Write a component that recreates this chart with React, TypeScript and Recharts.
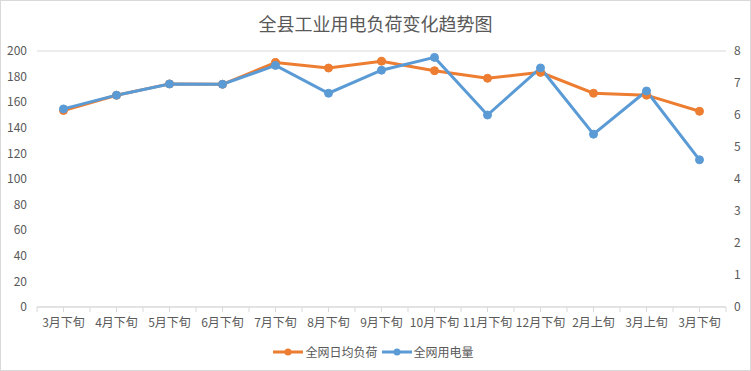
import * as React from "react";
import { CartesianGrid, Line, LineChart, XAxis, YAxis } from "recharts";

// Reference is an Excel-style dual-axis line chart: daily average load (left
// axis, 0–200) against electricity consumption (right axis, 0–8).
const categories = [
  "3月下旬", "4月下旬", "5月下旬", "6月下旬", "7月下旬", "8月下旬", "9月下旬",
  "10月下旬", "11月下旬", "12月下旬", "2月上旬", "3月上旬", "3月下旬",
];
const dailyLoad = [153.5, 165.4, 174.3, 174, 191, 186.7, 192, 184.6, 178.7, 183.3, 167, 165.5, 152.9];
const gridPower = [6.19, 6.62, 6.97, 6.96, 7.55, 6.68, 7.4, 7.8, 6.0, 7.47, 5.4, 6.75, 4.6];
const leftTicks = [0, 20, 40, 60, 80, 100, 120, 140, 160, 180, 200];
const rightTicks = [0, 1, 2, 3, 4, 5, 6, 7, 8];

const ORANGE = "#ED7D31";
const BLUE = "#5B9BD5";
const INK = "#595959";
const GRID = "#d9d9d9";
const FONT = '"Noto Sans CJK SC", "Noto Sans", sans-serif';

const W = 749;
const H = 369;
const LEFT_W = 36;
const RIGHT_W = 24;
const BAND = (W - LEFT_W - RIGHT_W) / categories.length;

const rows = categories.map((label, i) => ({ label, load: dailyLoad[i], power: gridPower[i] }));

function CatTick(props: any) {
  const { x, y, payload, index } = props;
  const half = BAND / 2;
  return (
    <g>
      <line x1={x} x2={x} y1={y} y2={y + 5} stroke={GRID} />
      <line x1={x - half} x2={x - half} y1={y} y2={y + 5} stroke={GRID} />
      {index === categories.length - 1 && <line x1={x + half} x2={x + half} y1={y} y2={y + 5} stroke={GRID} />}
      <text x={x} y={y + 20} textAnchor="middle" fill={INK} fontSize={12} fontFamily={FONT}>
        {payload.value}
      </text>
    </g>
  );
}

function LegendSwatch({ color, label }: { color: string; label: string }) {
  return (
    <span style={{ display: "inline-flex", alignItems: "center", marginRight: 4 }}>
      <svg width={30} height={10} style={{ marginRight: 2 }}>
        <line x1={0} x2={30} y1={5} y2={5} stroke={color} strokeWidth={3} />
        <circle cx={15} cy={5} r={3.5} fill={color} />
      </svg>
      <span>{label}</span>
    </span>
  );
}

export default function App() {
  return (
    <div
      style={{
        position: "absolute",
        left: 0,
        top: 0,
        width: 751,
        height: 371,
        border: `1px solid ${GRID}`,
        boxSizing: "border-box",
        background: "#fff",
        fontFamily: FONT,
      }}
    >
      <div
        style={{
          position: "absolute",
          top: 9,
          left: 0,
          width: W,
          textAlign: "center",
          fontSize: 18,
          color: INK,
        }}
      >
        全县工业用电负荷变化趋势图
      </div>
      <LineChart width={W} height={H} data={rows} margin={{ top: 50, right: 0, left: 0, bottom: 33 }}>
        <CartesianGrid stroke={GRID} vertical={false} />
        <XAxis
          dataKey="label"
          interval={0}
          padding={{ left: BAND / 2, right: BAND / 2 }}
          stroke={GRID}
          tickLine={false}
          tickSize={0}
          tickMargin={0}
          height={30}
          tick={<CatTick />}
        />
        <YAxis
          yAxisId="left"
          domain={[0, 200]}
          ticks={leftTicks}
          width={LEFT_W}
          axisLine={false}
          tickLine={false}
          tickMargin={4}
          tick={{ fill: INK, fontSize: 12, fontFamily: FONT }}
        />
        <YAxis
          yAxisId="right"
          orientation="right"
          domain={[0, 8]}
          ticks={rightTicks}
          width={RIGHT_W}
          axisLine={false}
          tickLine={false}
          tickMargin={2}
          tick={{ fill: INK, fontSize: 12, fontFamily: FONT }}
        />
        <Line
          yAxisId="left"
          dataKey="load"
          stroke={ORANGE}
          strokeWidth={3}
          dot={{ r: 4, fill: ORANGE, stroke: ORANGE, strokeWidth: 1 }}
          isAnimationActive={false}
        />
        <Line
          yAxisId="right"
          dataKey="power"
          stroke={BLUE}
          strokeWidth={3}
          dot={{ r: 4, fill: BLUE, stroke: BLUE, strokeWidth: 1 }}
          isAnimationActive={false}
        />
      </LineChart>
      <div
        style={{
          position: "absolute",
          top: 342,
          left: 0,
          width: W,
          display: "flex",
          justifyContent: "center",
          fontSize: 12,
          color: INK,
        }}
      >
        <LegendSwatch color={ORANGE} label="全网日均负荷" />
        <LegendSwatch color={BLUE} label="全网用电量" />
      </div>
    </div>
  );
}
